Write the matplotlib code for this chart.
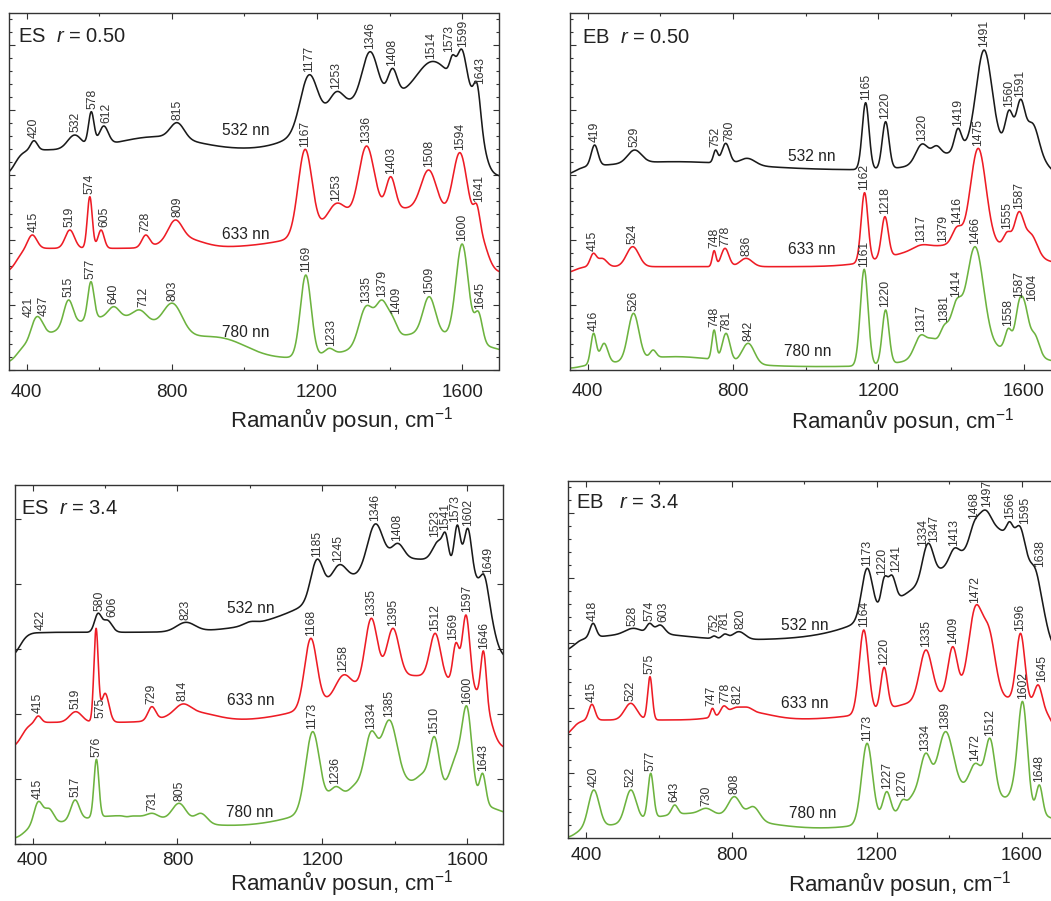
import numpy as np
import matplotlib
matplotlib.use("Agg")
import matplotlib.pyplot as plt
from matplotlib.ticker import MultipleLocator

plt.rcParams['font.family'] = ['Liberation Sans', 'DejaVu Sans']
plt.rcParams['mathtext.fontset'] = 'custom'
plt.rcParams['mathtext.rm'] = 'Liberation Sans'
plt.rcParams['mathtext.it'] = 'Liberation Sans:italic'

# ---------------------------------------------------------------------------
# Spectra: each one is a set of Raman bands (centre / cm-1, FWHM / cm-1,
# intensity of the trace at the band centre, arbitrary offset units),
# sitting on a background (offset, plateau, detector edges) with broad bands.
# ---------------------------------------------------------------------------
LASERS = ["532 nn", "633 nn", "780 nn"]

# ---- ES, r = 0.50 ----
es050_532_base = (58.0, 8.0, 368, 1657)
es050_532_broad = [(760, 250, 4.0), (1290, 250, 12.0), (1560, 300, 20.0)]
es050_532_bands = [420, 532, 578, 612, 815, 1177, 1253, 1346, 1408, 1514, 1573, 1599, 1643]
es050_532_fwhm = [22, 45, 18, 30, 45, 55, 45, 50, 30, 90, 18, 30, 22]
es050_532_level = [68.8, 70.5, 77.5, 73.2, 74.2, 88.5, 83.5, 95.5, 90.5, 92.5, 94.5, 96.2, 85.0]
es050_532_labels = [420, 532, 578, 612, 815, 1177, 1253, 1346, 1408, 1514, 1573, 1599, 1643]

es050_633_base = (29.0, 7.5, 372, 1668)
es050_633_broad = [(830, 120, 3.0), (1450, 450, 12.0)]
es050_633_bands = [415, 519, 574, 605, 728, 809, 1167, 1253, 1336, 1403, 1508, 1594, 1641]
es050_633_fwhm = [30, 30, 16, 20, 25, 45, 45, 60, 50, 30, 50, 45, 20]
es050_633_level = [40.5, 42.0, 52.0, 42.0, 40.5, 45.0, 66.2, 50.0, 67.2, 58.0, 60.0, 65.2, 49.5]
es050_633_labels = [415, 519, 574, 605, 728, 809, 1167, 1253, 1336, 1403, 1508, 1594, 1641]

es050_780_base = (2.0, 1.0, 372, 1900)
es050_780_broad = [(640, 420, 13.0), (950, 150, 3.5), (1500, 350, 8.0)]
es050_780_bands = [421, 437, 515, 577, 640, 712, 803, 1169, 1233, 1335, 1379, 1409, 1509, 1600, 1645]
es050_780_fwhm = [28, 30, 30, 20, 35, 45, 60, 35, 30, 45, 40, 30, 40, 40, 25]
es050_780_level = [15.0, 15.5, 21.0, 26.5, 19.0, 18.0, 20.0, 28.5, 6.5, 19.2, 21.0, 16.0, 22.0, 37.8, 17.5]
es050_780_labels = [421, 437, 515, 577, 640, 712, 803, 1169, 1233, 1335, 1379, 1409, 1509, 1600, 1645]

# ---- EB, r = 0.50 ----
eb050_532_base = (58.5, 1.5, 365, 1675)
eb050_532_broad = [(640, 450, 2.5), (1500, 260, 8.0)]
eb050_532_bands = [419, 529, 752, 780, 840, 1165, 1220, 1320, 1360, 1419, 1491, 1560, 1591, 1625]
eb050_532_fwhm = [22, 45, 14, 25, 50, 22, 22, 40, 30, 22, 50, 25, 28, 40]
eb050_532_level = [67.5, 66.0, 66.0, 68.0, 63.5, 80.2, 74.5, 67.8, 67.3, 72.5, 96.0, 78.0, 81.2, 74.0]
eb050_532_labels = [419, 529, 752, 780, 1165, 1220, 1320, 1419, 1491, 1560, 1591]

eb050_633_base = (29.0, 2.0, 365, 1900)
eb050_633_broad = [(1320, 250, 4.0), (1500, 250, 6.0)]
eb050_633_bands = [415, 440, 524, 748, 778, 836, 1162, 1218, 1317, 1379, 1416, 1475, 1555, 1587, 1620]
eb050_633_fwhm = [20, 30, 40, 12, 25, 40, 22, 22, 50, 40, 30, 50, 25, 30, 40]
eb050_633_level = [35.0, 33.5, 37.0, 35.8, 36.5, 33.5, 53.2, 46.0, 37.5, 37.5, 43.0, 66.5, 41.5, 47.5, 41.0]
eb050_633_labels = [415, 524, 748, 778, 836, 1162, 1218, 1317, 1379, 1416, 1475, 1555, 1587]

eb050_780_base = (0.5, 0.5, 375, 1900)
eb050_780_broad = [(640, 300, 3.0), (1480, 300, 6.0)]
eb050_780_bands = [416, 445, 526, 580, 748, 781, 842, 1161, 1220, 1317, 1350, 1381, 1414, 1466,
                   1558, 1587, 1604, 1630]
eb050_780_fwhm = [18, 25, 35, 20, 14, 25, 40, 25, 22, 40, 30, 30, 35, 55, 22, 25, 25, 30]
eb050_780_level = [11.0, 8.0, 17.0, 6.0, 12.0, 11.0, 8.0, 30.2, 18.0, 10.5, 9.5, 13.5, 21.0, 37.0,
                   12.5, 20.8, 20.0, 11.0]
eb050_780_labels = [416, 526, 748, 781, 842, 1161, 1220, 1317, 1381, 1414, 1466, 1558, 1587, 1604]

# ---- ES, r = 3.4 ----
es34_532_base = (55.5, 8.0, 365, 1672)
es34_532_broad = [(1450, 500, 22.0)]
es34_532_bands = [422, 580, 606, 823, 1000, 1185, 1245, 1346, 1408, 1523, 1541, 1573, 1602, 1649]
es34_532_fwhm = [20, 22, 30, 60, 40, 40, 50, 50, 40, 40, 18, 20, 25, 25]
es34_532_level = [63.4, 69.2, 67.2, 66.5, 66.7, 85.4, 83.7, 96.0, 90.2, 91.2, 93.2, 95.7, 94.7, 80.2]
es34_532_labels = [422, 580, 606, 823, 1185, 1245, 1346, 1408, 1523, 1541, 1573, 1602, 1649]

es34_633_base = (28.5, 8.0, 370, 1668)
es34_633_broad = [(840, 150, 3.0), (1450, 450, 14.0)]
es34_633_bands = [415, 519, 575, 600, 729, 814, 1168, 1258, 1335, 1395, 1512, 1569, 1597, 1646]
es34_633_fwhm = [20, 40, 14, 25, 25, 50, 40, 50, 40, 40, 35, 20, 25, 18]
es34_633_level = [38.4, 39.7, 64.7, 45.2, 41.2, 42.0, 61.7, 50.7, 67.7, 64.7, 63.2, 60.4, 68.7, 57.7]
es34_633_labels = [415, 519, 575, 729, 814, 1168, 1258, 1335, 1395, 1512, 1569, 1597, 1646]

es34_780_base = (1.5, 3.0, 375, 1900)
es34_780_broad = [(650, 350, 4.0), (1430, 450, 14.0)]
es34_780_bands = [415, 445, 517, 576, 660, 731, 805, 865, 1173, 1236, 1290, 1334, 1385, 1480,
                  1510, 1570, 1600, 1643]
es34_780_fwhm = [28, 30, 28, 16, 20, 35, 45, 40, 45, 40, 40, 40, 50, 40, 30, 40, 32, 20]
es34_780_level = [12.7, 10.7, 13.2, 25.4, 8.2, 9.2, 12.2, 9.2, 33.7, 17.2, 18.0, 33.7, 37.2, 21.7,
                  32.2, 27.2, 41.2, 21.2]
es34_780_labels = [415, 517, 576, 731, 805, 1173, 1236, 1334, 1385, 1510, 1600, 1643]

# ---- EB, r = 3.4 ----
eb34_532_base = (56.0, 3.5, 365, 1665)
eb34_532_broad = [(560, 250, 2.0), (1480, 450, 24.0), (1540, 150, 10.0)]
eb34_532_bands = [418, 528, 574, 603, 752, 781, 820, 1173, 1220, 1241, 1334, 1347, 1413, 1468,
                  1497, 1566, 1595, 1638]
eb34_532_fwhm = [20, 50, 20, 30, 15, 20, 40, 35, 20, 25, 30, 30, 30, 30, 40, 20, 30, 25]
eb34_532_level = [64.5, 63.0, 64.5, 64.0, 60.7, 61.3, 62.0, 81.0, 78.3, 79.0, 87.0, 88.0, 87.0,
                  95.0, 98.5, 95.0, 93.5, 80.5]
eb34_532_labels = [418, 528, 574, 603, 752, 781, 820, 1173, 1220, 1241, 1334, 1347, 1413, 1468,
                   1497, 1566, 1595, 1638]

eb34_633_base = (30.0, 5.5, 360, 1685)
eb34_633_broad = [(840, 150, 2.5), (1450, 400, 8.0)]
eb34_633_bands = [415, 522, 575, 747, 778, 812, 845, 1164, 1220, 1335, 1409, 1472, 1510, 1596, 1645]
eb34_633_fwhm = [20, 40, 15, 12, 20, 40, 30, 30, 22, 40, 30, 45, 40, 28, 25]
eb34_633_level = [40.2, 40.5, 48.5, 39.0, 39.7, 39.3, 39.3, 62.5, 51.3, 56.5, 57.5, 69.8, 63.0,
                  61.5, 46.0]
eb34_633_labels = [415, 522, 575, 747, 778, 812, 1164, 1220, 1335, 1409, 1472, 1596, 1645]

eb34_780_base = (0.0, 2.5, 370, 1900)
eb34_780_broad = [(700, 350, 5.0), (1450, 350, 12.0)]
eb34_780_bands = [420, 522, 577, 643, 730, 808, 860, 1173, 1227, 1270, 1300, 1334, 1389, 1472,
                  1512, 1580, 1602, 1648]
eb34_780_fwhm = [35, 35, 18, 20, 40, 40, 40, 35, 25, 20, 40, 35, 50, 40, 30, 30, 30, 20]
eb34_780_level = [14.5, 14.5, 19.5, 10.0, 9.0, 12.5, 9.5, 28.5, 14.0, 11.5, 13.5, 25.5, 32.0,
                  22.5, 30.0, 21.0, 41.0, 16.0]
eb34_780_labels = [420, 522, 577, 643, 730, 808, 1173, 1227, 1270, 1334, 1389, 1472, 1512, 1602, 1648]

PANEL_TITLES = ["ES", "EB", "ES", "EB"]
PANEL_RATIOS = ["0.50", "0.50", "3.4", "3.4"]

# ---------------------------------------------------------------------------
COLORS = ["#1a1a1a", "#ee1c25", "#6db33f"]
shift = np.linspace(350, 1700, 2701)


def gauss(x, c, w):
    return np.exp(-4 * np.log(2) * ((np.asarray(x, float) - c) / w) ** 2)


def window(x, lo, hi, s=11.0):
    x = np.asarray(x, float)
    return 1.0 / (1 + np.exp(-(x - lo) / s)) / (1 + np.exp(-(hi - x) / s))


def build(base, broad, bands, fwhm, level):
    off, plat, lo, hi = base
    bands = np.asarray(bands, float)
    fwhm = np.asarray(fwhm, float)
    level = np.asarray(level, float)

    def background(x):
        return plat + sum(a * gauss(x, c, w) for c, w, a in broad)

    w_c = window(bands, lo, hi)
    rhs = (level - off) / w_c - background(bands)
    G = gauss(bands[:, None], bands[None, :], fwhm[None, :])
    amps = np.linalg.solve(G, rhs)
    body = background(shift) + sum(a * gauss(shift, c, w) for a, c, w in zip(amps, bands, fwhm))
    return off + window(shift, lo, hi) * body


panels = [
    [(es050_532_base, es050_532_broad, es050_532_bands, es050_532_fwhm, es050_532_level, es050_532_labels),
     (es050_633_base, es050_633_broad, es050_633_bands, es050_633_fwhm, es050_633_level, es050_633_labels),
     (es050_780_base, es050_780_broad, es050_780_bands, es050_780_fwhm, es050_780_level, es050_780_labels)],
    [(eb050_532_base, eb050_532_broad, eb050_532_bands, eb050_532_fwhm, eb050_532_level, eb050_532_labels),
     (eb050_633_base, eb050_633_broad, eb050_633_bands, eb050_633_fwhm, eb050_633_level, eb050_633_labels),
     (eb050_780_base, eb050_780_broad, eb050_780_bands, eb050_780_fwhm, eb050_780_level, eb050_780_labels)],
    [(es34_532_base, es34_532_broad, es34_532_bands, es34_532_fwhm, es34_532_level, es34_532_labels),
     (es34_633_base, es34_633_broad, es34_633_bands, es34_633_fwhm, es34_633_level, es34_633_labels),
     (es34_780_base, es34_780_broad, es34_780_bands, es34_780_fwhm, es34_780_level, es34_780_labels)],
    [(eb34_532_base, eb34_532_broad, eb34_532_bands, eb34_532_fwhm, eb34_532_level, eb34_532_labels),
     (eb34_633_base, eb34_633_broad, eb34_633_bands, eb34_633_fwhm, eb34_633_level, eb34_633_labels),
     (eb34_780_base, eb34_780_broad, eb34_780_bands, eb34_780_fwhm, eb34_780_level, eb34_780_labels)],
]

# sideways nudges (cm-1) for crowded peak labels: (panel, trace, value) -> dx
label_dx = {
    (0, 0, 532): 3, (0, 0, 578): 3, (0, 0, 612): 8, (0, 0, 1573): -10, (0, 0, 1599): 4, (0, 0, 1643): 7,
    (0, 1, 415): 5, (0, 1, 605): 8, (0, 1, 809): 6, (0, 1, 1641): 5,
    (0, 2, 421): -15, (0, 2, 437): 11, (0, 2, 712): 9, (0, 2, 1233): 6, (0, 2, 1409): 10, (0, 2, 1645): 5,
    (1, 0, 780): 10, (1, 2, 1604): 20,
    (2, 0, 580): 4, (2, 0, 606): 13, (2, 0, 1523): -12, (2, 0, 1541): -2, (2, 0, 1573): -5,
    (2, 0, 1649): 10, (2, 1, 1569): -8, (2, 1, 1597): 4,
    (3, 0, 603): 10, (3, 0, 820): 4, (3, 0, 1220): -6, (3, 0, 1241): 13, (3, 0, 1334): -7,
    (3, 0, 1347): 11, (3, 0, 1497): 7, (3, 0, 1566): 2, (3, 0, 1595): 14, (3, 0, 1638): 12,
    (3, 1, 747): -4, (3, 1, 778): 5, (3, 1, 812): 5, (3, 1, 1645): 10,
}
# labels parked below the top of a very tall, narrow peak: -> (x, y)
label_xy = {(2, 1, 575): (587, 37.7)}

# axes rectangles in pixels: left, bottom(from top), width, height
fig_w, fig_h = 1051, 901
rects = [(8.5, 370.0, 490.0, 357.3), (569.5, 370.0, 490.5, 357.3),
         (14.6, 844.0, 488.7, 359.0), (568.3, 838.3, 490.0, 357.6)]
ytops = [107.2, 107.2, 107.7, 107.3]
laser_text_pos = [
    [(939, 70.5), (939, 39.2), (939, 10.0)],
    [(952, 62.8), (952, 34.8), (941, 4.2)],
    [(936, 69.4), (938, 41.7), (935, 8.2)],
    [(935, 62.5), (935, 39.0), (957, 6.0)],
]
title_pos = [(0.020, 0.919), (0.025, 0.914), (0.014, 0.919), (0.016, 0.923)]
title_gap = ["  ", "  ", "  ", "   "]
tick_pad = [10, 9.5, 5.5, 6]
xlabel_pos = [(0.68, -58.0), (0.678, -58.3), (0.669, -47.0), (0.676, -53.0)]

fig = plt.figure(figsize=(fig_w / 100, fig_h / 100), dpi=100)

for p, traces in enumerate(panels):
    l, b, w, h = rects[p]
    ax = fig.add_axes([l / fig_w, 1 - b / fig_h, w / fig_w, h / fig_h])
    ax.set_xlim(350, 1700)
    ax.set_ylim(0, ytops[p])

    for t, (base, broad, bands, fwhm, level, labels) in enumerate(traces):
        y = build(base, broad, bands, fwhm, level)
        ax.plot(shift, y, color=COLORS[t], lw=1.15, solid_joinstyle='round')
        for v in labels:
            key = (p, t, v)
            if key in label_xy:
                lx, ly = label_xy[key]
            else:
                lx = v + label_dx.get(key, 0)
                ly = max(np.interp(v, shift, y), np.interp(lx, shift, y)) + 0.8
            ax.text(lx, ly, str(v), rotation=90, ha='center', va='bottom',
                    fontsize=8.7, color='#333333')
        tx, ty = laser_text_pos[p][t]
        ax.text(tx, ty, LASERS[t], fontsize=11.2, color='#222222', ha='left', va='baseline')

    ax.text(title_pos[p][0], title_pos[p][1],
            PANEL_TITLES[p] + title_gap[p] + "$r$ = " + PANEL_RATIOS[p],
            transform=ax.transAxes, fontsize=14.5, color='#222222', ha='left', va='baseline')

    ax.set_xticks([400, 800, 1200, 1600])
    ax.set_xticklabels(["400", "800", "1200", "1600"])
    ax.xaxis.set_minor_locator(MultipleLocator(200))
    ax.yaxis.set_major_locator(MultipleLocator(19.5))
    if p != 2:
        ax.yaxis.set_minor_locator(MultipleLocator(3.9))
    ax.set_yticklabels([])
    ax.tick_params(axis='both', which='both', direction='in', top=True, right=True,
                   color='#333333', width=0.8)
    ax.tick_params(axis='both', which='major', length=4.5)
    ax.tick_params(axis='both', which='minor', length=2.5)
    ax.tick_params(axis='x', which='major', labelsize=13.5, labelcolor='#222222', pad=tick_pad[p])
    for s in ax.spines.values():
        s.set_color('#333333')
        s.set_linewidth(1.0)

    fx, fy = xlabel_pos[p]
    ax.text(fx, fy / h, "Ramanův posun, cm$^{-1}$", transform=ax.transAxes,
            ha='center', va='baseline', fontsize=16, color='#222222')

fig.savefig("out.png", dpi=100)
